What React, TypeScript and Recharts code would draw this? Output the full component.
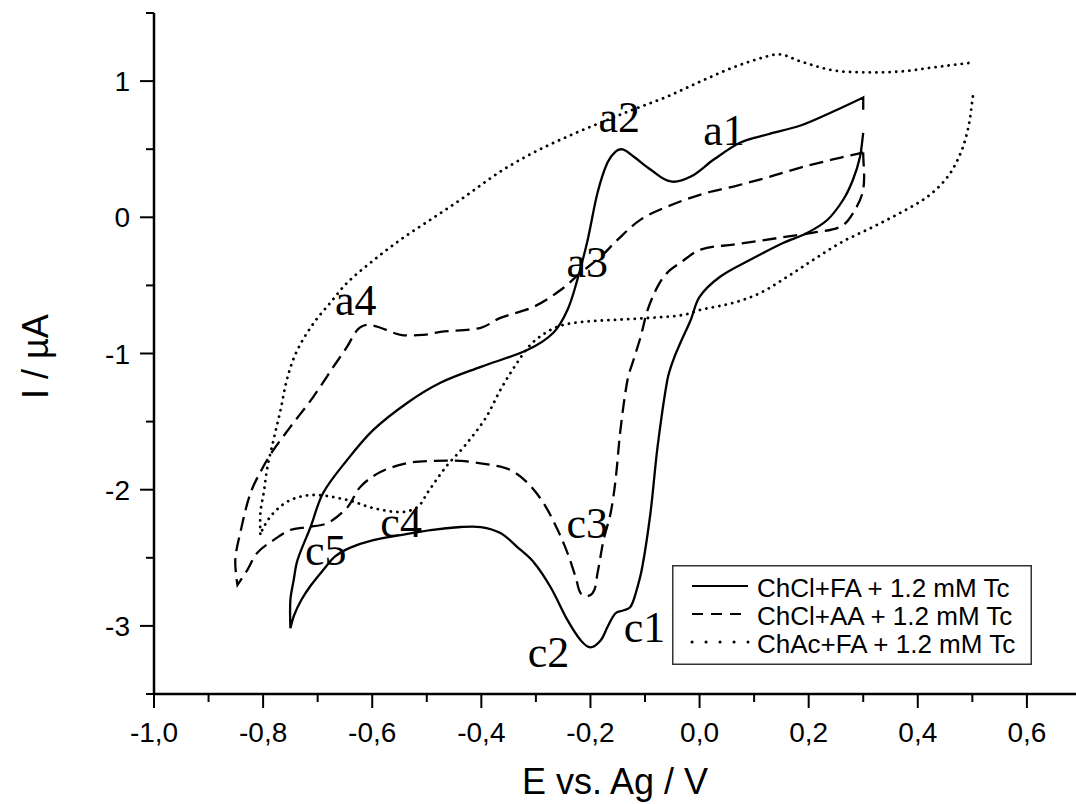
import React from 'react';
import { ComposedChart, Line, XAxis, YAxis, ReferenceDot, Legend } from 'recharts';

const SANS = '"Liberation Sans", Arial, Helvetica, sans-serif';
const SERIF = '"Liberation Serif", "Times New Roman", serif';

// Series names (legend)
const seriesNames = ['ChCl+FA + 1.2 mM Tc', 'ChCl+AA + 1.2 mM Tc', 'ChAc+FA + 1.2 mM Tc'];

// ChCl+FA + 1.2 mM Tc : [E (V), I (µA)] traced around the loop
const chclFa: [number, number][] = [
  [0.30, 0.62], [0.294, 0.443], [0.281, 0.274], [0.263, 0.127], [0.234, -0.020],
  [0.197, -0.115], [0.153, -0.189], [0.092, -0.314], [0.037, -0.438], [0.0, -0.584],
  [-0.016, -0.752], [-0.035, -0.921], [-0.048, -1.046], [-0.059, -1.193], [-0.077, -1.686],
  [-0.090, -2.171], [-0.105, -2.568], [-0.117, -2.76], [-0.127, -2.862], [-0.139, -2.885],
  [-0.154, -2.907], [-0.169, -3.01], [-0.181, -3.105], [-0.200, -3.157], [-0.218, -3.105],
  [-0.242, -2.958], [-0.273, -2.716], [-0.304, -2.532], [-0.334, -2.421], [-0.365, -2.318],
  [-0.401, -2.274], [-0.438, -2.274], [-0.493, -2.296], [-0.548, -2.333], [-0.598, -2.370],
  [-0.640, -2.425], [-0.668, -2.49], [-0.690, -2.59], [-0.712, -2.70], [-0.730, -2.81],
  [-0.743, -2.92], [-0.750, -3.017],
  [-0.750, -2.81], [-0.744, -2.664], [-0.737, -2.517], [-0.713, -2.274], [-0.690, -2.024],
  [-0.646, -1.782], [-0.598, -1.561], [-0.536, -1.363], [-0.475, -1.215], [-0.401, -1.098],
  [-0.315, -0.973], [-0.268, -0.848], [-0.242, -0.679], [-0.224, -0.458], [-0.205, -0.164],
  [-0.187, 0.18], [-0.169, 0.40], [-0.154, 0.483], [-0.141, 0.498], [-0.121, 0.446],
  [-0.090, 0.351], [-0.053, 0.263], [-0.016, 0.299], [0.026, 0.424], [0.075, 0.549],
  [0.124, 0.608], [0.185, 0.674], [0.245, 0.777], [0.30, 0.88], [0.30, 0.79],
];

// ChCl+AA + 1.2 mM Tc
const chclAa: [number, number][] = [
  [0.30, 0.476], [0.30, 0.204], [0.282, 0.035], [0.259, -0.068], [0.209, -0.112], [0.149, -0.149],
  [0.062, -0.200], [0.002, -0.237], [-0.035, -0.333], [-0.059, -0.406], [-0.077, -0.509],
  [-0.095, -0.678], [-0.108, -0.877], [-0.121, -1.046], [-0.132, -1.193], [-0.145, -1.561],
  [-0.154, -1.929], [-0.163, -2.171], [-0.176, -2.370], [-0.187, -2.612], [-0.196, -2.76],
  [-0.215, -2.775], [-0.227, -2.642], [-0.242, -2.465], [-0.260, -2.296], [-0.286, -2.098],
  [-0.315, -1.951], [-0.347, -1.855], [-0.383, -1.818], [-0.438, -1.789], [-0.493, -1.789],
  [-0.535, -1.804], [-0.585, -1.870], [-0.622, -1.980], [-0.645, -2.127], [-0.682, -2.245],
  [-0.719, -2.274], [-0.750, -2.296], [-0.781, -2.370], [-0.811, -2.465], [-0.829, -2.590],
  [-0.847, -2.700],
  [-0.851, -2.517], [-0.842, -2.318], [-0.823, -2.024], [-0.800, -1.833], [-0.781, -1.708],
  [-0.750, -1.539], [-0.708, -1.318], [-0.671, -1.097], [-0.646, -0.950], [-0.627, -0.825],
  [-0.609, -0.789], [-0.585, -0.811], [-0.548, -0.863], [-0.506, -0.863], [-0.475, -0.841],
  [-0.401, -0.811], [-0.365, -0.738], [-0.304, -0.657], [-0.254, -0.532], [-0.218, -0.407],
  [-0.181, -0.289], [-0.150, -0.164], [-0.108, -0.017], [-0.059, 0.079], [0.002, 0.167],
  [0.062, 0.226], [0.124, 0.292], [0.185, 0.365], [0.259, 0.439], [0.30, 0.476],
];

// ChAc+FA + 1.2 mM Tc
const chacFa: [number, number][] = [
  [0.501, 0.887], [0.493, 0.667], [0.479, 0.476], [0.455, 0.299], [0.418, 0.152],
  [0.369, 0.035], [0.319, -0.068], [0.259, -0.186], [0.209, -0.311], [0.161, -0.436],
  [0.112, -0.554], [0.062, -0.628], [0.002, -0.679], [-0.029, -0.716], [-0.090, -0.738],
  [-0.150, -0.752], [-0.213, -0.767], [-0.255, -0.796], [-0.282, -0.848], [-0.310, -0.936],
  [-0.337, -1.083], [-0.365, -1.267], [-0.392, -1.473], [-0.429, -1.671], [-0.462, -1.818],
  [-0.480, -1.914], [-0.499, -2.024], [-0.517, -2.127], [-0.548, -2.164], [-0.598, -2.135],
  [-0.645, -2.076], [-0.707, -2.039], [-0.750, -2.076], [-0.781, -2.171], [-0.799, -2.274],
  [-0.805, -2.333],
  [-0.805, -2.171], [-0.799, -2.024], [-0.792, -1.833], [-0.781, -1.636], [-0.768, -1.414],
  [-0.755, -1.171], [-0.737, -0.973], [-0.707, -0.775], [-0.677, -0.628], [-0.646, -0.481],
  [-0.603, -0.333], [-0.548, -0.164], [-0.493, -0.017], [-0.438, 0.130], [-0.365, 0.336],
  [-0.304, 0.476], [-0.242, 0.593], [-0.181, 0.696], [-0.121, 0.792], [-0.059, 0.887],
  [0.002, 0.998], [0.062, 1.101], [0.124, 1.182], [0.149, 1.196], [0.185, 1.145],
  [0.245, 1.079], [0.308, 1.064], [0.369, 1.071], [0.429, 1.101], [0.501, 1.137],
];

// Axis ticks
const xMajorTicks = [-1.0, -0.8, -0.6, -0.4, -0.2, 0, 0.2, 0.4, 0.6];
const xMajorLabels = ['-1,0', '-0,8', '-0,6', '-0,4', '-0,2', '0,0', '0,2', '0,4', '0,6'];
const xMinorTicks = [-0.9, -0.7, -0.5, -0.3, -0.1, 0.1, 0.3, 0.5];
const yMajorTicks = [-3, -2, -1, 0, 1];
const yMajorLabels = ['-3', '-2', '-1', '0', '1'];
const yMinorTicks = [-3.5, -2.5, -1.5, -0.5, 0.5, 1.5];

// Peak annotations
const peakLabels = ['a1', 'a2', 'a3', 'a4', 'c1', 'c2', 'c3', 'c4', 'c5'];
const peakE = [0.045, -0.147, -0.206, -0.630, -0.101, -0.277, -0.206, -0.547, -0.685];
const peakI = [0.531, 0.626, -0.438, -0.717, -3.118, -3.302, -2.355, -2.348, -2.553];

const toData = (pts: [number, number][]) => pts.map(([x, y]) => ({ x, y }));
const findLabel = (ticks: number[], labels: string[], v: number) => {
  const i = ticks.findIndex((t) => Math.abs(t - v) < 1e-6);
  return i >= 0 ? labels[i] : null;
};

// Smooth curve through the points (chord-scaled Hermite), sharp at reversal points
const smoothCurve = (context: any) => {
  let pts: number[][] = [];
  return {
    areaStart() {},
    areaEnd() {},
    lineStart() {
      pts = [];
    },
    point(x: number, y: number) {
      pts.push([+x, +y]);
    },
    lineEnd() {
      const n = pts.length;
      if (!n) return;
      context.moveTo(pts[0][0], pts[0][1]);
      if (n === 1) return;
      const dirAt = (i: number) => {
        if (i > 0 && i < n - 1) {
          const v1x = pts[i][0] - pts[i - 1][0];
          const v1y = pts[i][1] - pts[i - 1][1];
          const v2x = pts[i + 1][0] - pts[i][0];
          const v2y = pts[i + 1][1] - pts[i][1];
          const l1 = Math.hypot(v1x, v1y) || 1;
          const l2 = Math.hypot(v2x, v2y) || 1;
          if ((v1x * v2x + v1y * v2y) / (l1 * l2) < -0.1) return [0, 0];
        }
        const a = pts[Math.max(0, i - 1)];
        const b = pts[Math.min(n - 1, i + 1)];
        const dx = b[0] - a[0];
        const dy = b[1] - a[1];
        const L = Math.hypot(dx, dy) || 1;
        return [dx / L, dy / L];
      };
      for (let i = 0; i < n - 1; i++) {
        const p1 = pts[i];
        const p2 = pts[i + 1];
        const d = Math.hypot(p2[0] - p1[0], p2[1] - p1[1]);
        const t1 = dirAt(i);
        const t2 = dirAt(i + 1);
        context.bezierCurveTo(
          p1[0] + (t1[0] * d) / 3,
          p1[1] + (t1[1] * d) / 3,
          p2[0] - (t2[0] * d) / 3,
          p2[1] - (t2[1] * d) / 3,
          p2[0],
          p2[1]
        );
      }
    },
  };
};

const XTick = (props: any) => {
  const { x, y, payload } = props;
  const lbl = findLabel(xMajorTicks, xMajorLabels, payload.value);
  const len = lbl !== null ? 14 : 8;
  return (
    <g>
      <line x1={x} x2={x} y1={y} y2={y + len} stroke="#000" strokeWidth={2} />
      {lbl !== null && (
        <text x={x} y={y + 48} textAnchor="middle" fontFamily={SANS} fontSize={28} fill="#000">
          {lbl}
        </text>
      )}
    </g>
  );
};

const YTick = (props: any) => {
  const { x, y, payload } = props;
  const lbl = findLabel(yMajorTicks, yMajorLabels, payload.value);
  const len = lbl !== null ? 14 : 8;
  return (
    <g>
      <line x1={x - len} x2={x} y1={y} y2={y} stroke="#000" strokeWidth={2} />
      {lbl !== null && (
        <text x={x - 24} y={y + 10} textAnchor="end" fontFamily={SANS} fontSize={28} fill="#000">
          {lbl}
        </text>
      )}
    </g>
  );
};

const XTitle = (props: any) => {
  const vb = props.viewBox;
  return (
    <text x={vb.x + vb.width / 2} y={vb.y + 100} textAnchor="middle" fontFamily={SANS} fontSize={36} fill="#000">
      E vs. Ag / V
    </text>
  );
};

const YTitle = (props: any) => {
  const vb = props.viewBox;
  const cx = 48;
  const cy = vb.y + vb.height / 2 + 3;
  return (
    <text x={cx} y={cy} transform={`rotate(-90, ${cx}, ${cy})`} textAnchor="middle" fontFamily={SANS} fontSize={36} fill="#000">
      I / µA
    </text>
  );
};

const legendDash = ['', '11 8', '0.1 13.9'];
const legendWidth = [2.2, 2.2, 3];

const LegendBox = () => (
  <svg width={360} height={100} style={{ display: 'block' }}>
    <rect x={0.75} y={0.75} width={358.5} height={98.5} fill="#fff" stroke="#333" strokeWidth={1.5} />
    {seriesNames.map((name, i) => (
      <g key={name}>
        <line
          x1={20}
          x2={76}
          y1={21 + i * 28}
          y2={21 + i * 28}
          stroke="#000"
          strokeWidth={legendWidth[i]}
          strokeDasharray={legendDash[i] || undefined}
          strokeLinecap={i === 2 ? 'round' : 'butt'}
        />
        <text x={85} y={32 + i * 28} fontFamily={SANS} fontSize={26} fill="#000">
          {name}
        </text>
      </g>
    ))}
  </svg>
);

export default function App() {
  const allX = [...xMajorTicks, ...xMinorTicks].sort((a, b) => a - b);
  const allY = [...yMajorTicks, ...yMinorTicks].sort((a, b) => a - b);
  return (
    <div style={{ position: 'absolute', left: 0, top: 0, width: 1076, height: 804, background: '#fff' }}>
      <ComposedChart width={1076} height={804} margin={{ top: 13, right: 0, bottom: 0, left: 0 }}>
        <XAxis
          type="number"
          dataKey="x"
          domain={[-1, 0.69]}
          allowDataOverflow
          ticks={allX}
          interval={0}
          height={110}
          tickSize={0}
          tickMargin={0}
          tickLine={false}
          tick={<XTick />}
          axisLine={{ stroke: '#000', strokeWidth: 2.5 }}
          label={(p: any) => <XTitle {...p} />}
        />
        <YAxis
          type="number"
          dataKey="y"
          domain={[-3.5, 1.5]}
          allowDataOverflow
          ticks={allY}
          interval={0}
          width={154}
          tickSize={0}
          tickMargin={0}
          tickLine={false}
          tick={<YTick />}
          axisLine={{ stroke: '#000', strokeWidth: 2.5 }}
          label={(p: any) => <YTitle {...p} />}
        />
        <Line
          data={toData(chclFa)}
          dataKey="y"
          name={seriesNames[0]}
          type={smoothCurve as any}
          stroke="#000"
          strokeWidth={2.3}
          dot={false}
          activeDot={false}
          isAnimationActive={false}
        />
        <Line
          data={toData(chclAa)}
          dataKey="y"
          name={seriesNames[1]}
          type={smoothCurve as any}
          stroke="#000"
          strokeWidth={2.3}
          strokeDasharray="14 7"
          dot={false}
          activeDot={false}
          isAnimationActive={false}
        />
        <Line
          data={toData(chacFa)}
          dataKey="y"
          name={seriesNames[2]}
          type={smoothCurve as any}
          stroke="#000"
          strokeWidth={2.8}
          strokeDasharray="0.1 6.5"
          strokeLinecap="round"
          dot={false}
          activeDot={false}
          isAnimationActive={false}
        />
        {peakLabels.map((lbl, i) => (
          <ReferenceDot
            key={lbl}
            x={peakE[i]}
            y={peakI[i]}
            r={0}
            ifOverflow="visible"
            shape={(p: any) => (
              <text x={p.cx} y={p.cy} textAnchor="middle" fontFamily={SERIF} fontSize={44} fill="#000">
                {lbl}
              </text>
            )}
          />
        ))}
        <Legend
          layout="horizontal"
          verticalAlign="middle"
          align="center"
          wrapperStyle={{ position: 'absolute', left: 672, top: 565, width: 360, height: 100 }}
          content={() => <LegendBox />}
        />
      </ComposedChart>
    </div>
  );
}
